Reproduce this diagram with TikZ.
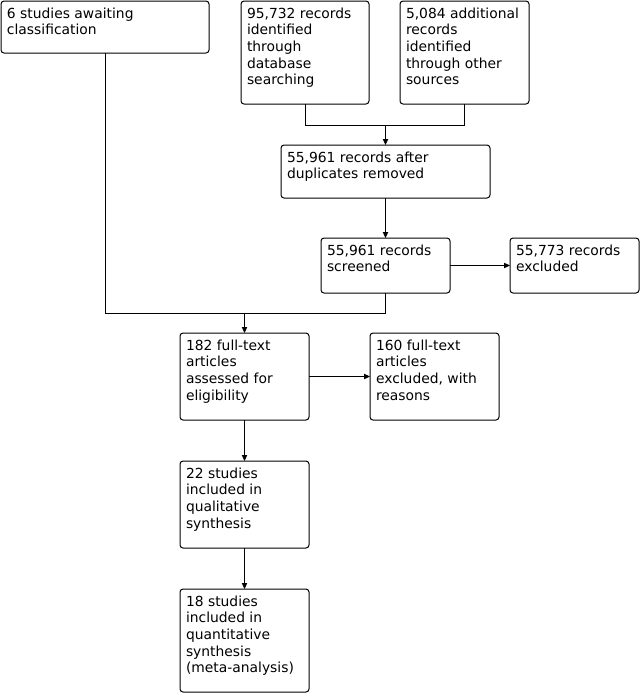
\documentclass[tikz,border=0pt]{standalone}
\usepackage{fontspec}
\setmainfont{DejaVu Sans}
\usetikzlibrary{arrows.meta}
\newlength\pxu \pxu=0.75pt
\tikzset{
  box/.style={draw, line width=0.75pt, rounded corners=2.25pt, inner xsep=4.5pt, inner ysep=4pt, outer sep=0pt, anchor=north west, font=\fontsize{10.4}{12.5}\selectfont},
  arr/.style={line width=0.75pt, -{Triangle[length=4.5pt,width=4pt]}},
  ln/.style={line width=0.75pt}
}
\newcommand\bx[6]{%
  \node[box, minimum width=#4\pxu, minimum height=#5\pxu] (#1) at (#2,#3)
  {\begin{minipage}[t][\dimexpr#5\pxu-8pt\relax][t]{\dimexpr#4\pxu-9pt\relax}\raggedright\strut #6\end{minipage}};}
\begin{document}
\begin{tikzpicture}[x=0.75pt,y=-0.75pt]
\useasboundingbox (0,0) rectangle (642,694);
\bx{b1}{1}{1}{208}{52}{6 studies awaiting\\classification}
\bx{b2}{241}{1}{128}{103}{95,732 records\\identified\\through\\database\\searching}
\bx{b3}{400}{1}{129}{103}{5,084 additional\\records\\identified\\through other\\sources}
\bx{b4}{281}{145}{209}{53}{55,961 records after\\duplicates removed}
\bx{b5}{321}{238}{129}{55}{55,961 records\\screened}
\bx{b6}{510}{238}{129}{55}{55,773 records\\excluded}
\bx{b7}{180}{333}{129}{87}{182 full-text\\articles\\assessed for\\eligibility}
\bx{b8}{370}{333}{129}{87}{160 full-text\\articles\\excluded, with\\reasons}
\bx{b9}{180}{461}{129}{87}{22 studies\\included in\\qualitative\\synthesis}
\bx{b10}{180}{589}{129}{103}{18 studies\\included in\\quantitative\\synthesis\\(meta-analysis)}
\coordinate (m1) at (385.5,125);
\coordinate (m2) at (385.5,313);
\coordinate (m3) at (244.5,313);
\draw[ln] (b2.south) |- (m1);
\draw[ln] (b3.south) |- (m1);
\draw[arr] (m1) -- (b4.north);
\draw[arr] (b4.south) -- (b5.north);
\draw[arr] (b5.east) -- (b6.west);
\draw[ln] (b5.south) -- (m2);
\draw[ln] (b1.south) |- (m2);
\draw[arr] (m3) -- (b7.north);
\draw[arr] (b7.east) -- (b8.west);
\draw[arr] (b7.south) -- (b9.north);
\draw[arr] (b9.south) -- (b10.north);
\end{tikzpicture}
\end{document}
